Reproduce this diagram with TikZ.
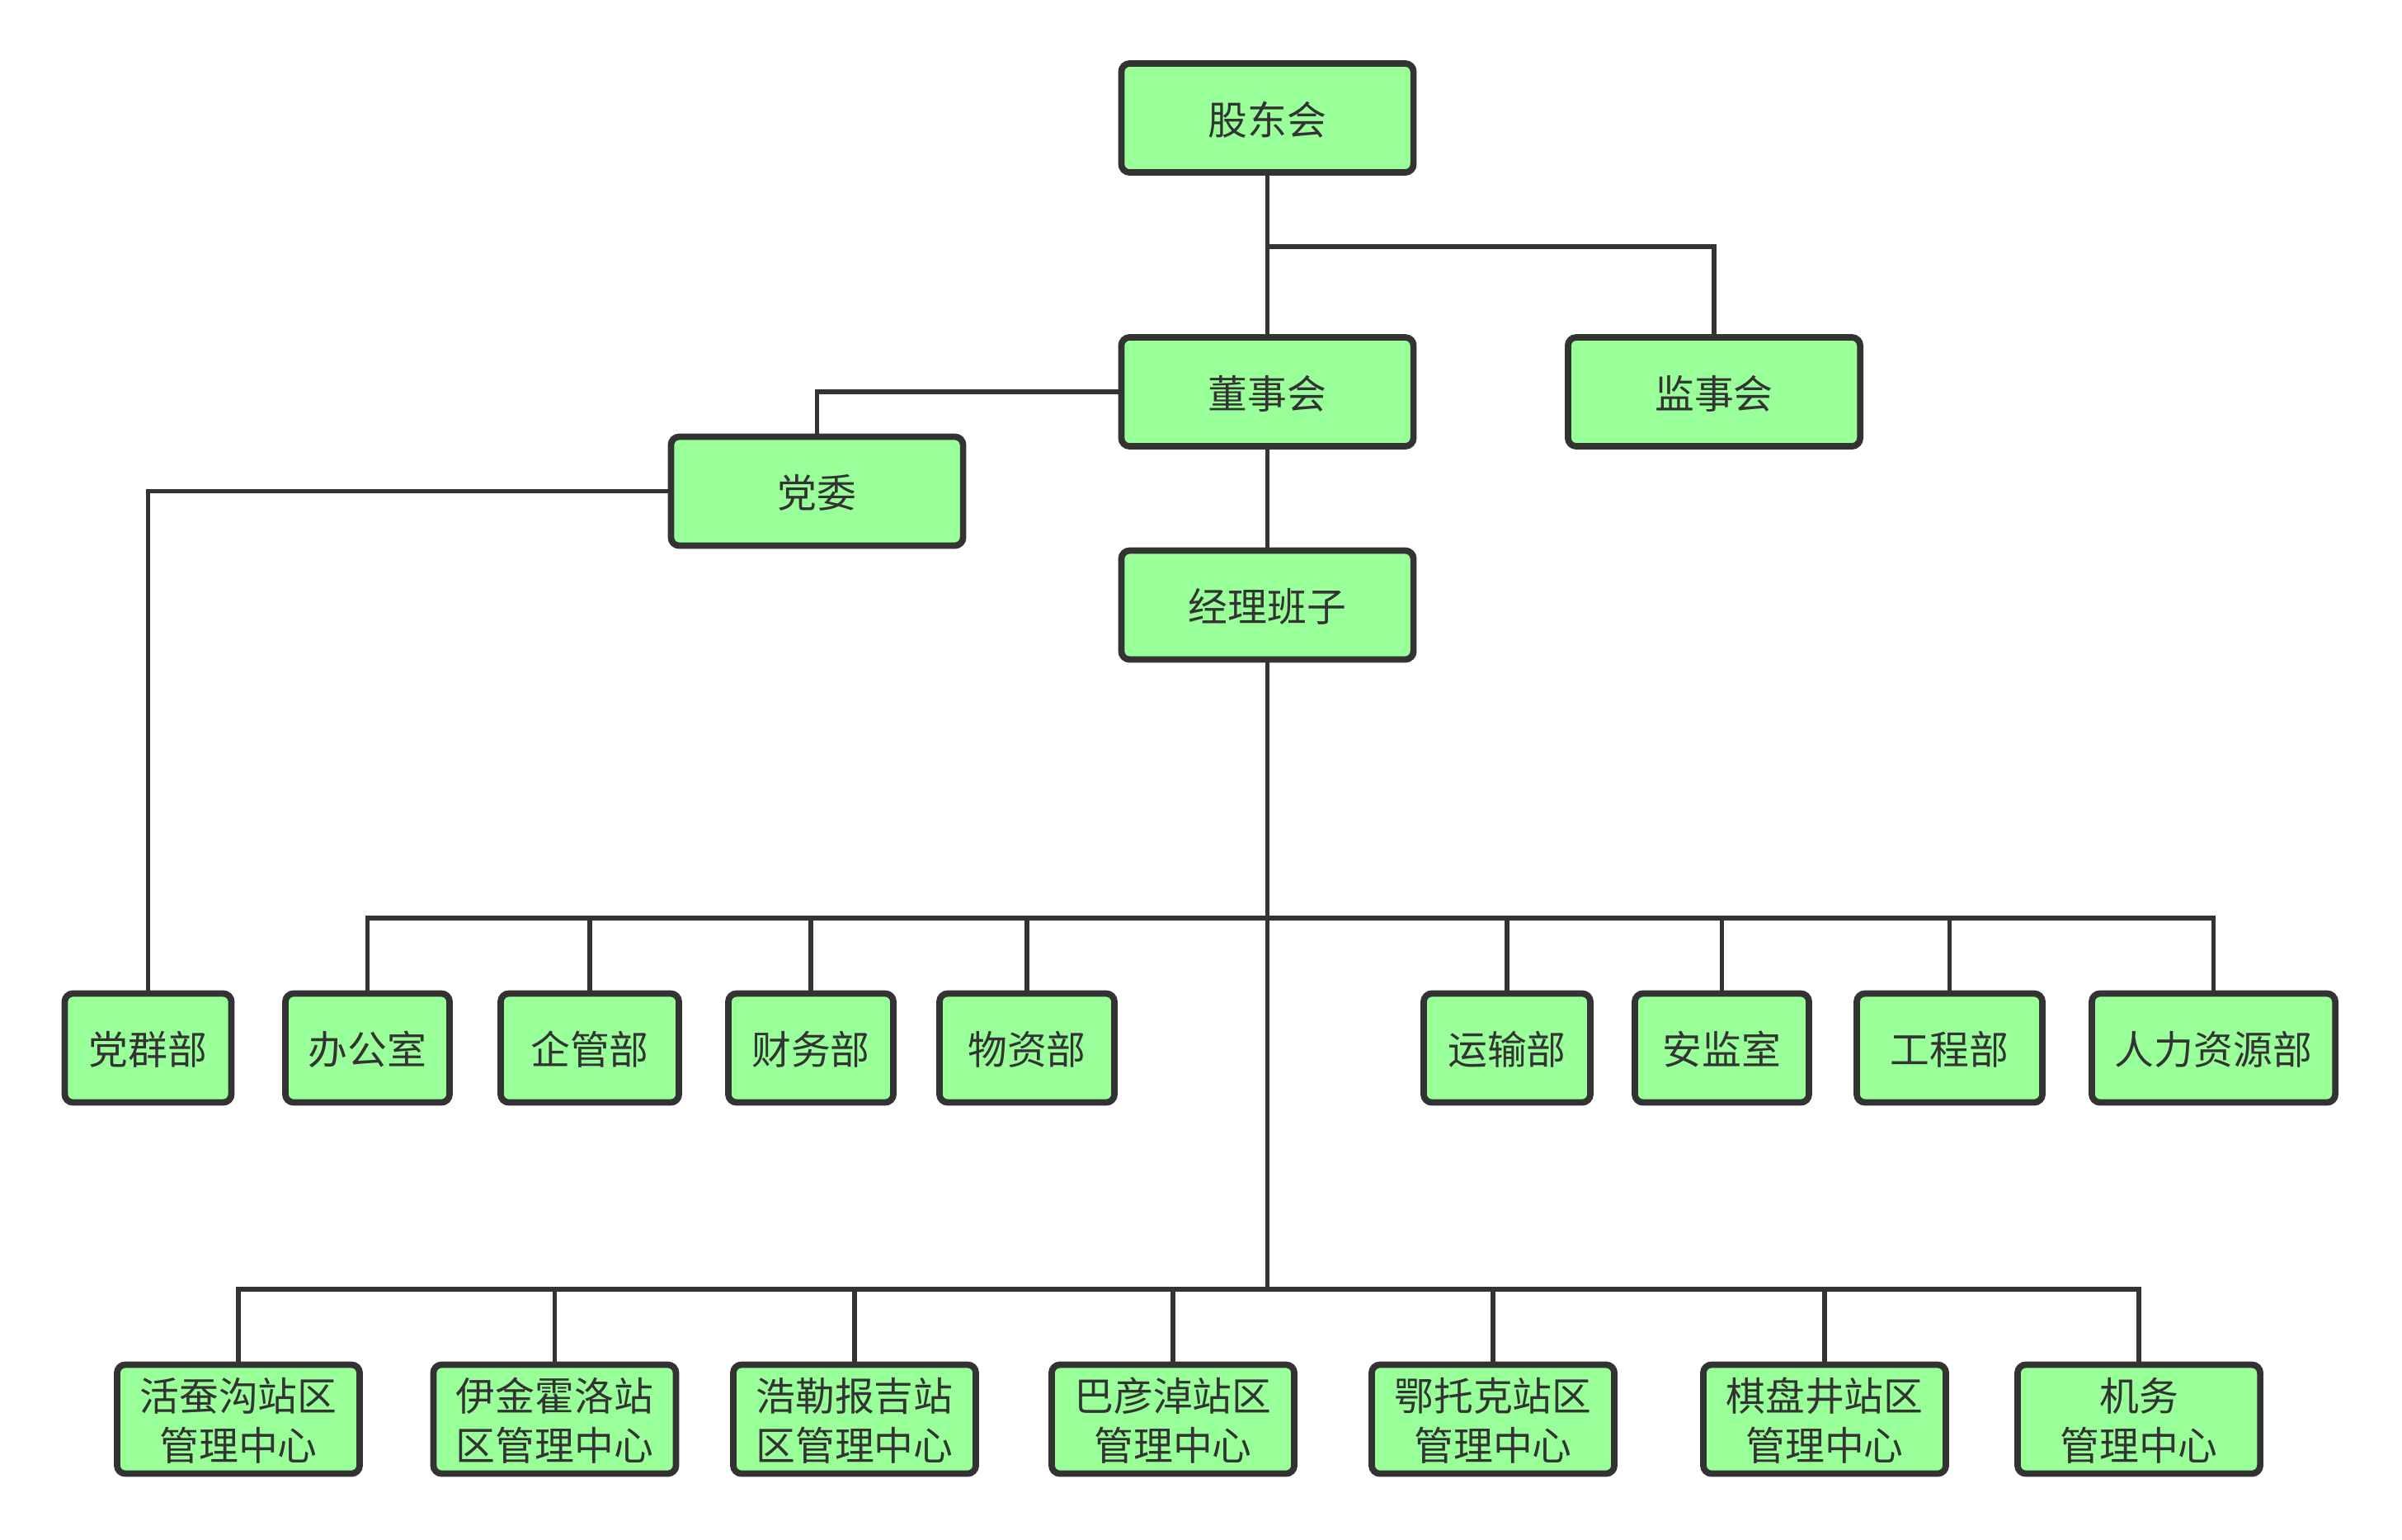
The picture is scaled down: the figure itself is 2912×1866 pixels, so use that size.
\documentclass[tikz,border=0pt]{standalone}
\usepackage{fontspec}
\newfontfamily\cjk{Noto Sans CJK SC}
\usetikzlibrary{positioning}
\definecolor{boxgreen}{HTML}{99FF99}
\definecolor{linegray}{HTML}{333333}
\tikzset{
    orgbox/.style = {rectangle, rounded corners=0.1cm, line width=2.2pt, draw=linegray, fill=boxgreen,
                     text=linegray, align=center, inner sep=0pt, minimum width=#1, minimum height=1.32cm,
                     text depth=-0.12cm, font=\cjk\fontsize{13.6}{17.1}\selectfont},
    orgbox/.default = 3.54cm,
    edgen/.style = {line width=1.65pt, draw=linegray}
}

\begin{document}
\begin{tikzpicture}[x=0.01cm,y=-0.01cm]
\useasboundingbox[fill=white] (0,0) rectangle (2912,1866);

\node[orgbox] at (1536.5, 143) (gdh) {股东会};
\node[orgbox] at (1536.5, 475) (dsh) {董事会};
\node[orgbox] at (2078, 475) (jsh) {监事会};
\node[orgbox] at (990.5, 595.5) (dw) {党委};
\node[orgbox] at (1536.5, 733.5) (jlbz) {经理班子};
%
\node[orgbox=2.02cm] at (179.5, 1270.5) (dqb) {党群部};
\node[orgbox=1.99cm] at (445.5, 1270.5) (bgs) {办公室};
\node[orgbox=2.16cm] at (715, 1270.5) (qgb) {企管部};
\node[orgbox=2.00cm] at (983, 1270.5) (cwb) {财务部};
\node[orgbox=2.12cm] at (1245, 1270.5) (wzb) {物资部};
\node[orgbox=2.02cm] at (1827, 1270.5) (ysb) {运输部};
\node[orgbox=2.11cm] at (2087.5, 1270.5) (ajs) {安监室};
\node[orgbox=2.25cm] at (2363.5, 1270.5) (gcb) {工程部};
\node[orgbox=2.95cm] at (2683.5, 1270.5) (rlzy) {人力资源部};
%
\node[orgbox=2.94cm] at (289, 1720.5) (hcg) {活蚕沟站区\\管理中心};
\node[orgbox=2.94cm] at (672.5, 1720.5) (yjhl) {伊金霍洛站\\区管理中心};
\node[orgbox=2.94cm] at (1036, 1720.5) (hlbj) {浩勒报吉站\\区管理中心};
\node[orgbox=2.94cm] at (1422, 1720.5) (byn) {巴彦淖站区\\管理中心};
\node[orgbox=2.94cm] at (1810, 1720.5) (etk) {鄂托克站区\\管理中心};
\node[orgbox=2.94cm] at (2212, 1720.5) (qpj) {棋盘井站区\\管理中心};
\node[orgbox=2.94cm] at (2593, 1720.5) (jw) {机务\\管理中心};
%
\coordinate (top) at (1536.5, 299);
\coordinate (bus2) at (1536.5, 1113);
\coordinate (bus3) at (1536.5, 1563);
%
\draw[edgen] (gdh) -- (dsh);
\draw[edgen] (top) -| (jsh.north);
\draw[edgen] (dsh.west) -| (dw.north);
\draw[edgen] (dw.west) -| (dqb.north);
\draw[edgen] (dsh) -- (jlbz);
\draw[edgen] (jlbz.south) -- (bus3);
\foreach \n in {bgs,qgb,cwb,wzb,ysb,ajs,gcb,rlzy}
    \draw[edgen] (bus2) -| (\n.north);
\foreach \n in {hcg,yjhl,hlbj,byn,etk,qpj,jw}
    \draw[edgen] (bus3) -| (\n.north);

\end{tikzpicture}
\end{document}
